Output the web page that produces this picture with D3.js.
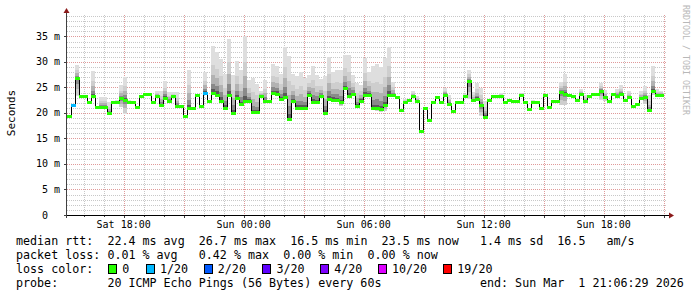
<!DOCTYPE html>
<meta charset="utf-8">
<script src="https://d3js.org/d3.v7.min.js"></script>
<style>
    html, body { margin: 0; padding: 0; background: white; }
    text { font-family: "DejaVu Sans Mono", monospace; fill: #000; }
</style>
<body></body>
<script>

    // DATA (one value per 12 minute step, ms)
    const startTime = new Date(2026, 1, 28, 15, 10);   // Sat 15:10
    const endTime   = new Date(2026, 2, 1, 21, 10);    // Sun 21:10
    const stepMinutes = 12;

    const median = [
        19.5, 21.6, 26.8, 23.4, 23.4, 22.2, 23.4, 21.2, 21.2, 21.2,
        20.0, 22.2, 22.2, 22.9, 22.6, 22.2, 22.2, 21.1, 23.3, 23.7,
        23.7, 22.2, 23.4, 21.6, 23.0, 22.4, 23.3, 21.4, 21.4, 19.5,
        21.0, 21.0, 23.6, 21.3, 23.9, 22.4, 23.9, 23.6, 22.4, 21.0,
        23.5, 20.0, 22.9, 21.7, 22.4, 22.4, 20.1, 20.1, 23.4, 22.3,
        22.3, 23.9, 23.8, 22.7, 23.1, 18.9, 22.4, 21.0, 21.0, 21.0,
        23.6, 22.2, 22.2, 23.3, 19.9, 22.7, 22.6, 22.5, 22.1, 24.8,
        23.3, 23.7, 21.3, 22.4, 23.5, 23.5, 20.9, 20.9, 20.7, 21.5,
        23.5, 23.5, 23.1, 20.5, 22.1, 22.5, 23.4, 22.3, 16.5, 21.0,
        18.7, 22.2, 23.1, 22.2, 23.6, 21.8, 20.4, 22.2, 22.2, 23.3,
        26.3, 22.5, 22.8, 21.5, 19.3, 22.6, 23.3, 23.3, 23.3, 22.2,
        22.5, 22.4, 22.4, 23.6, 22.2, 20.8, 22.2, 22.2, 21.0, 23.5,
        21.2, 22.4, 22.3, 24.1, 23.8, 23.6, 23.4, 22.6, 23.8, 22.4,
        23.4, 23.7, 23.8, 24.3, 23.1, 22.3, 23.8, 23.4, 23.7, 22.5,
        23.1, 21.3, 21.8, 22.9, 23.1, 20.5, 24.4, 23.6, 23.6
    ];

    // highest ping of each step (top of the smoke)
    const smokeHi = [
        19.5, 21.6, 29.4, 23.4, 23.4, 22.2, 28.3, 21.2, 23.1, 23.1,
        22.1, 22.2, 22.6, 25.4, 27.0, 22.5, 22.2, 21.1, 23.3, 23.7,
        23.7, 22.2, 24.4, 24.4, 26.3, 24.1, 24.1, 24.1, 21.6, 19.5,
        28.5, 21.2, 23.6, 21.3, 28.0, 22.4, 33.1, 32.0, 30.5, 27.6,
        34.4, 27.5, 30.1, 28.4, 35.0, 26.4, 26.8, 25.7, 24.4, 26.4,
        22.6, 29.5, 29.3, 27.6, 32.9, 31.2, 27.6, 27.3, 28.0, 26.8,
        27.4, 29.2, 27.4, 26.6, 27.2, 31.0, 28.0, 28.4, 28.4, 31.4,
        31.3, 27.4, 25.8, 25.5, 30.7, 28.0, 29.2, 29.6, 29.0, 30.7,
        33.0, 26.0, 23.3, 20.5, 22.8, 22.5, 24.3, 23.3, 16.5, 21.0,
        18.7, 22.2, 23.1, 22.2, 24.8, 23.5, 20.4, 22.2, 22.2, 23.8,
        28.4, 24.1, 25.8, 24.8, 22.4, 22.6, 23.3, 23.3, 24.0, 22.2,
        22.5, 22.4, 22.4, 24.0, 22.2, 20.8, 22.6, 22.2, 21.0, 23.5,
        21.2, 22.4, 22.3, 26.1, 27.7, 23.6, 23.4, 22.6, 24.6, 23.5,
        23.4, 23.7, 23.8, 25.8, 24.5, 22.3, 23.8, 24.6, 25.4, 22.5,
        24.4, 21.3, 21.8, 24.4, 25.2, 23.5, 29.2, 24.6, 24.4
    ];

    // lowest ping of each step (bottom of the smoke)
    const smokeLo = [
        19.5, 21.6, 23.4, 23.4, 23.4, 22.2, 23.4, 21.2, 21.2, 21.2,
        20.0, 22.2, 22.2, 21.1, 19.8, 22.2, 22.2, 21.1, 23.3, 23.7,
        23.7, 22.2, 23.4, 21.6, 23.0, 22.4, 23.3, 21.4, 21.4, 19.5,
        21.0, 21.0, 23.6, 21.3, 23.9, 22.4, 23.9, 23.6, 22.4, 20.5,
        23.5, 19.7, 22.9, 21.7, 22.4, 22.4, 19.8, 19.8, 23.4, 22.3,
        22.3, 23.9, 23.8, 22.7, 23.1, 18.7, 22.4, 21.0, 21.0, 21.0,
        23.6, 22.2, 22.2, 23.3, 19.7, 22.7, 22.6, 22.5, 21.3, 24.8,
        23.3, 23.7, 21.3, 22.4, 23.5, 23.5, 20.9, 20.4, 20.2, 20.4,
        23.5, 23.5, 23.1, 20.5, 22.1, 22.5, 23.4, 22.3, 16.5, 21.0,
        18.7, 22.2, 23.1, 22.2, 23.6, 21.8, 20.4, 22.2, 22.2, 23.3,
        22.8, 22.5, 22.8, 19.5, 19.3, 22.6, 23.3, 23.3, 23.3, 22.2,
        22.5, 22.4, 22.4, 23.6, 22.2, 20.8, 22.2, 22.2, 21.0, 23.5,
        21.2, 22.4, 22.3, 21.5, 21.5, 23.6, 23.4, 22.6, 23.8, 22.0,
        23.4, 23.7, 23.8, 22.6, 22.4, 22.3, 23.8, 23.4, 23.7, 22.5,
        23.1, 21.3, 21.8, 22.9, 21.8, 20.5, 23.5, 23.6, 23.6
    ];

    // steps that lost pings
    const lossSteps = [1, 34];
    const lossPings = [1, 1];

    const yTicks = [0, 5, 10, 15, 20, 25, 30, 35];
    const yTickLabels = [" 0", " 5 m", "10 m", "15 m", "20 m", "25 m", "30 m", "35 m"];

    const lossLabels = ["0", "1/20", "2/20", "3/20", "4/20", "10/20", "19/20"];
    const lossThresholds = [0, 1, 2, 3, 4, 10, 19];
    const lossColors = ["#26ff00", "#00b8ff", "#0059ff", "#5e00ff", "#7e00ff", "#dd00ff", "#ff0000"];

    const rttStats  = ["22.4 ms avg", "26.7 ms max", "16.5 ms min", "23.5 ms now", "1.4 ms sd", "16.5", "am/s"];
    const lossStats = ["0.01 % avg", "0.42 % max", "0.00 % min", "0.00 % now"];
    const probeText = "20 ICMP Echo Pings (56 Bytes) every 60s";
    const endText   = "end: Sun Mar  1 21:06:29 2026";

    // LAYOUT
    const width = 697, height = 297;
    const L = 67, R = 667, T = 15, B = 215;

    const svg = d3.select("body").append("svg")
        .attr("width", width)
        .attr("height", height);

    svg.append("rect").attr("width", width).attr("height", height).attr("fill", "#ffffff");

    const x = d3.scaleTime().domain([startTime, endTime]).range([L, R]);
    const y = d3.scaleLinear().domain([0, 39.2]).range([B, T]);

    const stepTime = i => d3.timeMinute.offset(startTime, i * stepMinutes);
    const px = v => Math.round(v) + 0.5;

    // grid
    const grid = svg.append("g").attr("shape-rendering", "crispEdges");
    d3.range(1, 40).forEach(v => {
        const major = v % 5 === 0;
        grid.append("line")
            .attr("x1", L).attr("x2", R)
            .attr("y1", px(y(v))).attr("y2", px(y(v)))
            .attr("stroke", major ? "#e09a9a" : "#c8c8c8")
            .attr("stroke-dasharray", "1,1");
    });
    d3.timeHour.range(d3.timeHour.ceil(startTime), endTime).forEach(t => {
        const major = t.getHours() % 3 === 0;
        grid.append("line")
            .attr("x1", px(x(t))).attr("x2", px(x(t)))
            .attr("y1", T).attr("y2", B)
            .attr("stroke", major ? "#e09a9a" : "#c8c8c8")
            .attr("stroke-dasharray", "1,1");
    });

    // smoke: nested bands, darker near the median
    const bandFrac   = [1, 0.6, 0.38, 0.2, 0.08];
    const bandColors = ["#dedede", "#cecece", "#b2b2b2", "#8a8a8a", "#5a5a5a"];
    const smoke = svg.append("g").attr("shape-rendering", "crispEdges");
    bandFrac.forEach((f, k) => {
        median.forEach((m, i) => {
            const top = m + (smokeHi[i] - m) * f;
            const bot = m - (m - smokeLo[i]) * Math.min(1, f * 1.6);
            if (top - bot < 0.05) return;
            const x0 = Math.round(x(stepTime(i))), x1 = Math.round(x(stepTime(i + 1)));
            const y0 = Math.round(y(top)), y1 = Math.round(y(bot));
            smoke.append("rect")
                .attr("x", x0).attr("width", x1 - x0)
                .attr("y", y0).attr("height", Math.max(1, y1 - y0))
                .attr("fill", bandColors[k]);
        });
    });

    // median line (black steps)
    const pts = median.map((m, i) => [stepTime(i), m]);
    pts.push([stepTime(median.length), median[median.length - 1]]);
    svg.append("path")
        .attr("d", d3.line()
            .x(d => px(x(d[0])))
            .y(d => px(y(d[1])))
            .curve(d3.curveStepAfter)(pts))
        .attr("fill", "none")
        .attr("stroke", "#000")
        .attr("stroke-width", 1)
        .attr("shape-rendering", "crispEdges");

    // loss coloured median segments
    function lossColor(n) {
        let c = lossColors[0];
        lossThresholds.forEach((t, k) => { if (n >= t) c = lossColors[k]; });
        return c;
    }
    const seg = svg.append("g").attr("shape-rendering", "crispEdges");
    median.forEach((m, i) => {
        const li = lossSteps.indexOf(i);
        const n = li >= 0 ? lossPings[li] : 0;
        const x0 = Math.round(x(stepTime(i))), x1 = Math.round(x(stepTime(i + 1)));
        seg.append("rect")
            .attr("x", x0).attr("width", x1 - x0 + 1)
            .attr("y", Math.round(y(m)) - 1).attr("height", 3)
            .attr("fill", lossColor(n));
    });

    // axes
    const axis = svg.append("g").attr("shape-rendering", "crispEdges");
    axis.append("line").attr("x1", 66.5).attr("x2", 66.5).attr("y1", 12).attr("y2", 218)
        .attr("stroke", "#404040");
    axis.append("line").attr("x1", 64).attr("x2", 670).attr("y1", 215.5).attr("y2", 215.5)
        .attr("stroke", "#000");
    yTicks.forEach(v => {
        axis.append("line").attr("x1", 64).attr("x2", 67)
            .attr("y1", px(y(v))).attr("y2", px(y(v))).attr("stroke", "#404040");
    });
    d3.timeHour.range(d3.timeHour.ceil(startTime), endTime).forEach(t => {
        axis.append("line").attr("x1", px(x(t))).attr("x2", px(x(t)))
            .attr("y1", 216).attr("y2", t.getHours() % 3 === 0 ? 218 : 217).attr("stroke", "#404040");
    });
    svg.append("path").attr("d", "M66.5,8 L63.5,13 L69.5,13 Z").attr("fill", "#8b1a1a");
    svg.append("path").attr("d", "M674,215.5 L669,212.5 L669,218.5 Z").attr("fill", "#8b1a1a");

    // tick labels
    yTicks.forEach((v, k) => {
        svg.append("text")
            .attr("x", 36).attr("y", y(v) + 3.5)
            .attr("font-size", "10px")
            .attr("xml:space", "preserve")
            .style("white-space", "pre")
            .text(yTickLabels[k]);
    });
    const fmt = d3.timeFormat("%a %H:%M");
    d3.timeHour.every(6).range(startTime, endTime).forEach(t => {
        svg.append("text")
            .attr("x", x(t)).attr("y", 228)
            .attr("text-anchor", "middle")
            .attr("font-size", "10px")
            .text(fmt(t));
    });

    svg.append("text")
        .attr("transform", "translate(15,113) rotate(-90)")
        .attr("text-anchor", "middle")
        .attr("font-size", "11px")
        .text("Seconds");

    svg.append("text")
        .attr("transform", "translate(683,5) rotate(90)")
        .attr("font-size", "8.3px")
        .style("fill", "#b8b8b8")
        .text("RRDTOOL / TOBI OETIKER");

    // legend (monospace columns)
    const cw = 7.03, lx = 16;
    const col = c => lx + c * cw;
    const rows = [245, 259, 273, 287];
    function put(str, xx, yy) {
        svg.append("text").attr("x", xx).attr("y", yy)
            .attr("font-size", "11.68px")
            .attr("xml:space", "preserve")
            .style("white-space", "pre")
            .text(str);
    }
    put("median rtt:", lx, rows[0]);
    [13, 26, 39, 52, 66, 77, 84].forEach((c, k) => put(rttStats[k], col(c), rows[0]));
    put("packet loss:", lx, rows[1]);
    [13, 26, 38, 50].forEach((c, k) => put(lossStats[k], col(c), rows[1]));
    put("loss color:", lx, rows[2]);
    [108, 145.8, 203.6, 262.2, 320, 377.8, 443.1].forEach((c, k) => {
        svg.append("rect")
            .attr("x", Math.round(c) + 0.5).attr("y", 264.5)
            .attr("width", 8).attr("height", 9)
            .attr("fill", lossColors[k])
            .attr("stroke", "#000")
            .attr("shape-rendering", "crispEdges");
        put(lossLabels[k], c + 14.2, rows[2]);
    });
    put("probe:", lx, rows[3]);
    put(probeText, col(13), rows[3]);
    put(endText, col(66), rows[3]);

</script>
